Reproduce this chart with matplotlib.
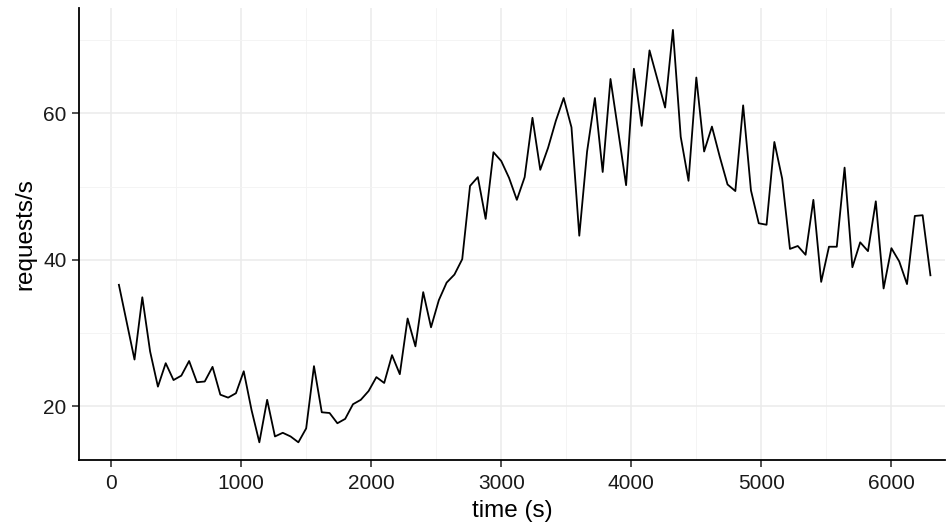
import numpy as np
import matplotlib
matplotlib.use("Agg")
import matplotlib.pyplot as plt
from matplotlib.ticker import MultipleLocator

plt.rcParams["font.family"] = ["Liberation Sans", "DejaVu Sans"]

# sampled every 60 s
time_s = np.arange(60, 6301, 60)
requests = [
    36.6, 31.5, 26.4, 34.9, 27.5, 22.7, 25.9, 23.6, 24.2, 26.2,
    23.3, 23.4, 25.4, 21.6, 21.2, 21.8, 24.8, 19.5, 15.1, 20.9,
    15.9, 16.4, 15.9, 15.1, 17.0, 25.5, 19.2, 19.1, 17.7, 18.3,
    20.3, 20.9, 22.1, 24.0, 23.2, 27.0, 24.4, 32.0, 28.2, 35.6,
    30.8, 34.5, 36.9, 38.0, 40.1, 50.1, 51.3, 45.6, 54.7, 53.5,
    51.2, 48.2, 51.3, 59.4, 52.3, 55.3, 59.0, 62.1, 58.1, 43.3,
    54.8, 62.1, 52.0, 64.7, 57.5, 50.2, 66.1, 58.3, 68.6, 64.7,
    60.8, 71.4, 56.8, 50.8, 64.9, 54.8, 58.2, 54.1, 50.3, 49.4,
    61.1, 49.5, 45.0, 44.8, 56.1, 51.1, 41.5, 41.9, 40.7, 48.2,
    37.0, 41.8, 41.8, 52.6, 39.0, 42.4, 41.2, 48.0, 36.1, 41.6,
    39.8, 36.7, 46.0, 46.1, 37.9,
]

fig = plt.figure(figsize=(9.53, 5.28), dpi=100)
ax = fig.add_axes([0.083, 0.129, 0.909, 0.856])

ax.plot(time_s, requests, color="black", lw=1.3)

ax.set_xlim(-246, 6415)
ax.set_ylim(12.7, 74.4)
ax.xaxis.set_major_locator(MultipleLocator(1000))
ax.xaxis.set_minor_locator(MultipleLocator(500))
ax.yaxis.set_major_locator(MultipleLocator(20))
ax.yaxis.set_minor_locator(MultipleLocator(10))

ax.grid(which="major", color="#EBEBEB", lw=1.1)
ax.grid(which="minor", color="#F3F3F3", lw=0.6)
ax.set_axisbelow(True)

for side in ("top", "right"):
    ax.spines[side].set_visible(False)
for side in ("left", "bottom"):
    ax.spines[side].set_linewidth(1.3)
    ax.spines[side].set_color("black")

ax.tick_params(which="major", length=5, width=1.2, color="#333333",
               labelsize=15, labelcolor="#1a1a1a")
ax.tick_params(axis="x", which="major", pad=5)
ax.tick_params(axis="y", which="major", pad=4)
ax.tick_params(which="minor", length=0)

ax.set_xlabel("time (s)", fontsize=17.5, labelpad=5)
ax.set_ylabel("requests/s", fontsize=17.5, labelpad=5)

fig.savefig("out.png", dpi=100)
